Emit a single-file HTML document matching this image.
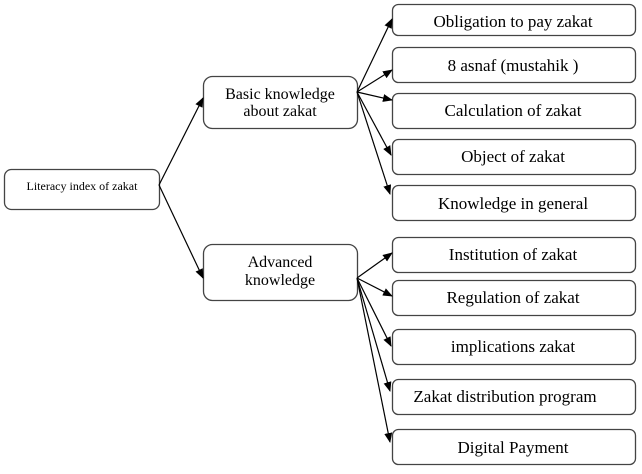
<!DOCTYPE html>
<html><head><style>
body{margin:0;background:#fff;}
svg text{font-family:"Liberation Serif",serif;fill:#000;}
</style></head><body>
<svg width="642" height="469" xmlns="http://www.w3.org/2000/svg">
<defs><marker id="a" markerWidth="10" markerHeight="8" refX="9" refY="4" orient="auto" markerUnits="userSpaceOnUse"><path d="M0,0 L10,4 L0,8 z" fill="#000"/></marker></defs>
<g fill="#fff" stroke="#444" stroke-width="1.3">
<rect x="4.5" y="169.5" width="155" height="40" rx="7"/>
<rect x="203.5" y="76.5" width="154" height="52" rx="9"/>
<rect x="203.5" y="244.5" width="154" height="56" rx="9"/>
<rect x="392.5" y="4.5" width="243" height="31" rx="6"/>
<rect x="392.5" y="47.5" width="243" height="35" rx="6"/>
<rect x="392.5" y="93.5" width="243" height="35" rx="6"/>
<rect x="392.5" y="139.5" width="243" height="35" rx="6"/>
<rect x="392.5" y="185.5" width="243" height="35" rx="6"/>
<rect x="392.5" y="237.5" width="243" height="35" rx="6"/>
<rect x="392.5" y="280.5" width="243" height="35" rx="6"/>
<rect x="392.5" y="329.5" width="243" height="35" rx="6"/>
<rect x="392.5" y="379.5" width="243" height="35" rx="6"/>
<rect x="392.5" y="429.5" width="243" height="35" rx="6"/>
</g>
<g stroke="#000" stroke-width="1.2" marker-end="url(#a)">
<line x1="159" y1="185" x2="203" y2="98"/>
<line x1="159" y1="185" x2="203" y2="278"/>
<line x1="357" y1="92" x2="392" y2="19"/>
<line x1="357" y1="92" x2="392" y2="70"/>
<line x1="357" y1="92" x2="392" y2="100"/>
<line x1="357" y1="92" x2="391" y2="155"/>
<line x1="357" y1="92" x2="390" y2="194"/>
<line x1="357" y1="278" x2="392" y2="253"/>
<line x1="357" y1="278" x2="392" y2="296"/>
<line x1="357" y1="278" x2="391" y2="346"/>
<line x1="357" y1="278" x2="390" y2="391"/>
<line x1="357" y1="278" x2="390" y2="442"/>
</g>
<g text-anchor="middle" font-size="17">
<text x="82" y="190" font-size="12">Literacy  index of zakat</text>
<text x="280" y="99" font-size="16">Basic knowledge</text>
<text x="280" y="116" font-size="16">about zakat</text>
<text x="280" y="267" font-size="16">Advanced</text>
<text x="280" y="285" font-size="16">knowledge</text>
<text x="513" y="27">Obligation to pay zakat</text>
<text x="513" y="71">8 asnaf (mustahik )</text>
<text x="513" y="116">Calculation of zakat</text>
<text x="513" y="162">Object of  zakat</text>
<text x="513" y="209">Knowledge in general</text>
<text x="513" y="260">Institution of zakat</text>
<text x="513" y="303">Regulation of zakat</text>
<text x="513" y="352">implications zakat</text>
<text x="505" y="402">Zakat distribution program</text>
<text x="513" y="453">Digital Payment</text>
</g>
</svg>
</body></html>
